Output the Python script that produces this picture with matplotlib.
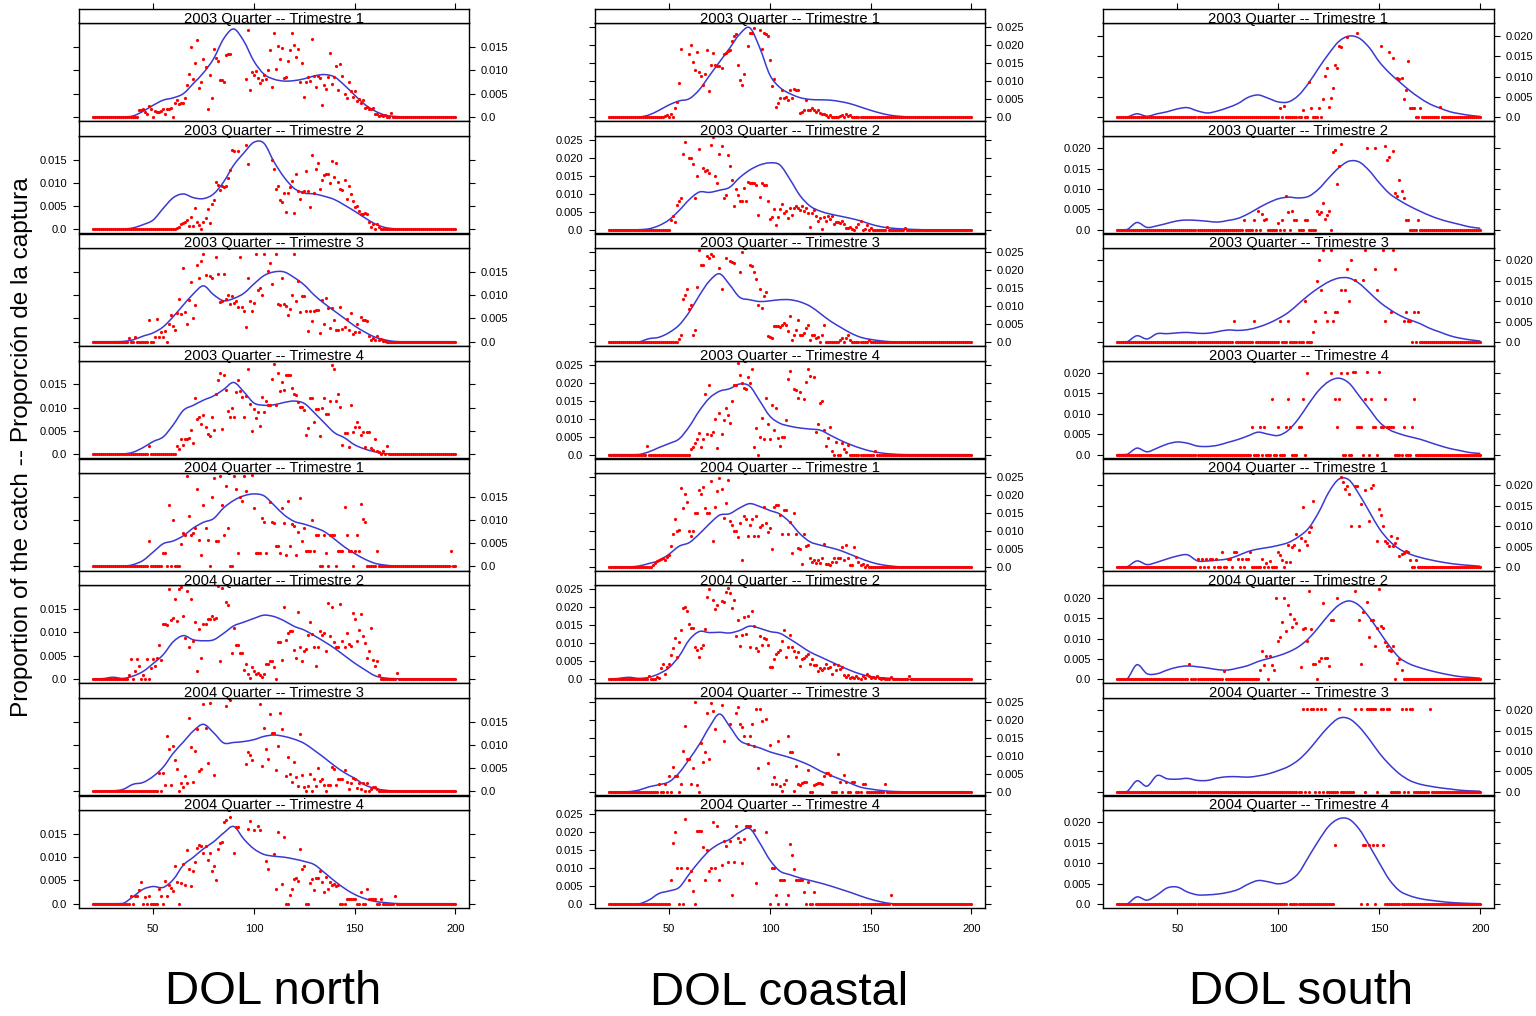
import numpy as np
import matplotlib
matplotlib.use("Agg")
import matplotlib.pyplot as plt
from matplotlib.path import Path
from matplotlib.patches import PathPatch

plt.rcParams['font.family'] = ['Liberation Sans', 'DejaVu Sans']

# ---------------- data (proportions in per-mille, i.e. value * 1000) ----------------
length_grid = list(range(20, 201))          # observed length classes (cm)
curve_grid = list(range(20, 201, 5))        # model curve evaluated every 5 cm
x_ticks = [50, 100, 150, 200]

quarter_labels = ["2003 Quarter -- Trimestre 1", "2003 Quarter -- Trimestre 2",
                  "2003 Quarter -- Trimestre 3", "2003 Quarter -- Trimestre 4",
                  "2004 Quarter -- Trimestre 1", "2004 Quarter -- Trimestre 2",
                  "2004 Quarter -- Trimestre 3", "2004 Quarter -- Trimestre 4"]
region_labels = ["DOL north", "DOL coastal", "DOL south"]
y_axis_label = "Proportion of the catch -- Proporción de la captura"

north_yticks = [0.0, 0.005, 0.010, 0.015]
north_yticklabels = ["0.0", "0.005", "0.010", "0.015"]
coastal_yticks = [0.0, 0.005, 0.010, 0.015, 0.020, 0.025]
coastal_yticklabels = ["0.0", "0.005", "0.010", "0.015", "0.020", "0.025"]
south_yticks = [0.0, 0.005, 0.010, 0.015, 0.020]
south_yticklabels = ["0.0", "0.005", "0.010", "0.015", "0.020"]

# ---- DOL north ----
n1_curve = [0,0,0,0,0.2,1.2,2.5,3.6,4.1,5.0,7.2,9.5,12.5,16.8,18.9,16.3,12.0,9.2,8.1,7.7,7.8,8.2,8.8,9.1,8.6,6.8,4.7,2.7,1.3,0.4,0.1,0,0,0,0,0,0]
n1_start = 43
n1_obs = [1.4,1.5,1.6,1.0,0.7,2.4,1.8,0,1.3,1.0,
          1.0,1.3,1.6,0.7,1.6,1.8,2.0,0,2.9,3.7,
          2.7,2.9,3.0,4.1,6.9,9.3,15.0,8.2,11.6,16.6,
          6.3,7.4,12.4,10.7,1.8,8.9,4.1,14.6,12.7,12.1,
          8.0,7.9,7.6,13.4,13.5,13.5,22,23,22,21.5,
          22,22,21,8.2,18.6,5.7,9.6,8.9,9.9,8.4,
          7.3,7.9,9.1,8.2,10.0,14.3,6.4,18.1,10.4,15.2,
          12.5,14.9,8.4,8.6,12.1,14.4,18.1,15.5,12.9,14.6,
          7.5,11.6,4.3,7.5,8.6,7.7,16.8,8.7,6.4,8.7,
          8.4,2.5,6.8,5.9,8.6,13.7,7.1,8.6,11.0,5.7,
          11.4,8.7,4.9,4.1,7.5,5.6,4.3,5.6,3.4,3.9,
          3.0,3.7,2.0,2.1,1.8,1.6,2.0,0.7,0.6,0.1,
          0.4,0.1,0.4,0,0,0.9]

n2_curve = [0,0,0,0.05,0.3,1.0,2.0,4.5,6.8,7.6,6.8,6.6,7.6,10.2,13.8,16.4,18.7,18.5,14.5,11.2,8.8,7.8,7.6,7.1,6.4,5.2,3.9,2.5,1.2,0.4,0.1,0,0,0,0,0,0]
n2_start = 62
n2_obs = [0.2,0.6,1.1,1.3,1.6,1.9,0.7,2.6,0.7,4.6,
          1.6,0.9,0,1.6,2.4,4.3,1.4,5.4,6.3,10.2,
          9.5,8.4,9.4,9.1,9.4,11.0,12.7,17.1,16.8,21,
          16.9,21,21,22,18.1,14.0,20.5,21,22,20.5,
          22,21,21,20.5,21,21,21,14.9,12.9,8.7,
          9.4,6.3,5.9,7.9,3.7,7.9,9.0,10.4,3.4,11.8,
          8.3,6.6,8.0,8.3,12.6,8.3,4.9,15.9,7.9,12.9,
          14.3,8.7,10.6,11.6,11.9,11.9,10.0,14.7,11.3,14.3,
          10.1,8.6,8.4,10.6,6.6,9.4,7.6,6.1,4.7,5.0,
          4.0,3.3,3.3,3.4,3.3,1.6,0.4,1.1,0.1,1.1,
          0.6,0.1,0]

n3_curve = [0,0,0,0.05,0.4,1.2,1.9,3.2,5.4,7.9,10.3,12.0,10.1,8.8,9.3,10.4,12.4,14.2,15.0,15.0,13.8,12.2,10.0,8.2,6.6,5.0,3.4,2.1,1.0,0.4,0.05,0,0,0,0,0,0]
n3_start = 38
n3_obs = [0.9,0,0,1.1,0,0,0,0,0,0,
          4.6,0,0,1.1,4.9,1.1,2.0,1.1,2.4,0,
          3.9,5.7,3.4,2.5,6.1,9.1,5.9,15.9,6.4,3.7,
          8.9,12.9,5.0,7.9,16.4,13.6,17.3,18.9,14.3,21,
          14.1,13.7,21,18.2,14.6,8.6,8.7,14.6,9.1,10.1,
          8.1,9.9,8.4,8.7,7.5,18.2,7.5,6.6,3.2,13.7,
          8.7,6.7,8.4,18.9,11.1,11.6,10.1,18.9,21,15.3,
          17.0,12.4,20.5,18.9,8.1,7.9,13.7,8.0,7.7,5.7,
          7.1,10.1,18.9,8.7,13.0,6.3,9.9,9.9,6.6,2.3,
          6.6,4.4,6.6,6.8,6.8,1.8,8.9,3.7,9.4,7.3,
          3.0,7.3,4.6,2.5,2.5,7.4,2.7,3.2,4.9,2.5,
          6.1,1.7,2.0,3.8,2.1,5.4,4.6,4.6,4.4,1.2,
          0.4,0.8,0.4,1.2,0.3,0.6,0.1,0.2]

n4_curve = [0,0,0,0.02,0.4,1.4,2.7,3.7,6.3,9.4,10.5,11.6,12.5,13.9,15.4,13.4,11.0,10.5,10.6,11.1,11.4,10.9,8.9,6.7,4.6,3.5,2.0,1.1,0.5,0.1,0,0,0,0,0,0,0]
n4_start = 48
n4_obs = [1.8,0,0,0,0,0,0,0,0,0,
          0,0,0,0,1.8,1.0,3.3,2.0,3.3,3.3,
          3.4,5.2,2.3,12.1,7.5,8.0,6.4,8.3,5.9,4.3,
          3.8,8.0,5.2,13.0,15.9,17.5,5.5,16.9,13.7,9.2,
          8.0,10.0,8.0,13.4,15.9,13.5,12.3,8.0,12.5,18.3,
          10.7,5.0,9.8,7.7,9.1,6.1,12.3,9.0,11.4,10.5,
          10.5,16.2,19.4,10.5,17.5,13.5,15.6,13.7,17.1,17.1,
          17.1,14.2,13.0,12.7,11.2,10.2,10.1,9.5,4.0,5.7,
          12.1,12.1,6.8,9.7,9.7,3.8,10.0,12.1,8.7,8.7,
          11.4,19.1,18.3,11.4,13.0,10.2,2.0,4.5,4.5,1.6,
          10.5,4.7,5.9,7.0,5.9,4.1,4.7,1.6,4.8,4.8,
          1.3,0.9,3.3,0.7,0.4,0,0.6,0,1.8]

n5_curve = [0,0,0,0.02,0.4,1.3,3.1,4.9,5.5,6.6,8.3,9.5,10.3,12.6,14.2,15.2,15.6,15.2,13.2,11.1,9.7,9.1,8.4,7.5,5.9,4.2,2.8,1.6,0.7,0.3,0.1,0,0,0,0,0,0]
n5_start = 48
n5_obs = [5.5,0,0,0,0,0,0,2.8,2.8,0,
          13.3,0,10.0,0,0,0,4.8,7.2,6.8,19.5,
          10.9,6.7,7.2,8.2,16.6,5.7,2.5,13.3,8.2,5.7,
          0,15.0,19.0,5.5,5.5,19.5,13.3,6.7,17.4,8.2,
          0,0,19.5,16.7,2.8,15.0,14.0,19.5,16.3,21,
          21,19.6,12.5,2.8,2.8,2.8,10.5,9.6,2.8,21,
          13.9,9.6,9.3,4.3,4.5,2.9,12.5,9.3,2.4,14.0,
          4.5,9.1,8.6,2.5,7.5,14.8,5.5,8.2,3.4,3.4,
          3.4,10.0,3.4,6.8,6.8,0,0,6.8,2.8,0,
          6.8,6.8,6.8,0,3.4,3.4,3.4,12.8,6.8,3.4,
          3.4,0,3.4,6.8,3.4,13.5,10.3,9.6,0,0,
          0,0,0,3.4]
n5_extra_x = [198]
n5_extra_y = [3.4]

n6_curve = [0,0.05,0.35,0.1,0.6,1.6,3.3,5.2,8.0,9.3,8.4,8.2,8.4,9.8,11.4,12.2,13.0,13.7,13.4,12.5,11.3,10.5,9.3,8.0,6.6,5.0,3.4,2.0,0.7,0.2,0.05,0,0,0,0,0,0]
n6_start = 38
n6_obs = [0.9,4.3,0,1.8,4.3,2.7,0,0.9,0,4.3,
          0,2.3,4.3,2.8,4.5,7.2,4.1,11.9,11.9,11.6,
          19.4,12.7,13.0,17.1,12.4,19.4,19.8,13.6,8.7,19.0,
          6.8,17.1,8.2,12.2,1.6,10.7,4.6,11.9,11.9,12.9,
          12.9,13.5,12.9,13.0,20,3.8,19.5,20.5,16.6,15.8,
          21,5.5,11.0,7.2,7.2,5.5,5.5,2.0,3.2,1.1,
          0.2,2.6,1.8,1.1,1.3,0.8,0.4,1.1,3.2,3.1,
          3.8,3.8,2.5,0,7.9,7.9,4.1,15.5,8.4,9.8,
          10.3,10.3,6.3,4.6,14.3,6.8,3.8,5.9,6.5,9.5,
          12.2,9.6,6.8,2.7,6.8,10.3,9.5,9.8,5.9,16.4,
          9.3,15.5,8.0,6.8,6.8,16.2,8.2,6.8,9.8,7.5,
          7.0,14.1,12.9,8.2,10.5,13.9,9.3,7.7,4.6,5.9,
          11.0,4.1,2.7,3.9,0.9,0,0,0,0,0,
          0,0,0,1.3]

n7_curve = [0,0.02,0.1,0.4,1.5,1.9,3.2,5.2,8.2,10.6,13.0,14.4,12.6,10.4,10.5,10.7,11.1,11.8,12.1,11.8,11.2,10.3,8.8,7.2,5.5,4.0,2.8,1.4,0.6,0.25,0.05,0,0,0,0,0,0]
n7_start = 53
n7_obs = [4.0,0,4.0,1.4,11.8,9.1,1.4,9.8,6.8,4.9,
          0,1.8,1.0,3.3,1.8,15.8,9.5,2.0,8.6,13.4,
          4.3,4.7,18.8,13.6,6.1,19.0,20.5,3.6,21,20.5,
          21,20.5,21,18.3,21,19.6,21,20.5,21,20.5,
          21,20.5,21,5.8,8.4,7.7,6.7,20.5,21,21,
          18.8,5.4,13.6,9.0,7.0,16.6,12.5,12.5,4.5,9.8,
          16.9,13.4,21,3.3,7.4,3.8,2.0,6.3,3.1,1.1,
          12.4,3.6,1.0,0,1.1,3.8,0,2.6,1.1,5.0,
          2.2,2.6,1.3,0,1.3,1.3,5.3,4.7,1.3,2.6,
          2.6,2.6,4.5,2.0,0.4,1.7,2.9,2.6,0.8,1.7,
          0.4,1.7,0,1.7,0,0.4,0.9,0.9,0.4]

n8_curve = [0,0,0,0.05,1.5,3.1,3.7,3.5,5.2,8.3,10.0,11.8,13.3,15.2,16.6,13.9,11.8,10.6,10.2,10.0,9.6,9.1,8.4,6.7,4.9,3.3,2.0,1.1,0.5,0.25,0.05,0,0,0,0,0,0]
n8_start = 39
n8_obs = [1.6,0,1.6,1.6,2.9,4.6,0,1.4,0,1.6,
          0,0,0,0,3.2,1.6,0,4.9,1.6,4.0,
          3.3,2.8,8.2,4.7,0,4.4,8.5,4.0,11.5,7.5,
          3.7,7.0,8.9,12.0,12.7,12.3,10.9,12.3,9.4,10.9,
          7.0,8.1,5.1,11.8,13.0,13.2,17.6,17.9,20.5,18.7,
          20.5,10.8,16.5,16.4,20.5,20.5,20.5,20.5,16.0,17.8,
          21,15.8,21,16.7,15.8,20.5,21,9.2,7.4,21,
          20.5,10.6,3.2,15.5,21,4.2,14.4,0,0,1.8,
          3.2,5.4,5.6,4.9,11.8,7.4,8.1,0,0,4.4,
          5.4,3.0,5.6,5.6,7.0,4.6,2.6,5.8,3.2,4.7,
          4.0,4.2,3.7,4.0,0,0,0,1.1,1.1,1.1,
          1.1,1.1,0,0,2.6,0,0,3.2,1.1,1.1,
          1.1,1.1,0,0,1.1,0,0,0,0,0,
          0,1.6]

# ---- DOL coastal ----
c1_curve = [0,0,0,0.1,0.7,2.0,3.5,4.6,5.2,7.7,11.6,15.4,19.2,23.1,24.9,19.3,11.8,8.3,6.6,5.5,5.0,4.9,4.8,4.4,3.8,2.9,2.0,1.2,0.6,0.3,0.1,0.05,0,0,0,0,0]
c1_start = 48
c1_obs = [0.4,0.7,0,1.1,0.2,2.5,4.4,9.5,19.0,27,
          27,27,17.6,20.0,15.5,13.2,18.3,12.5,11.6,9.0,
          12.1,18.7,7.4,14.6,17.9,14.6,14.3,14.2,13.7,17.7,
          17.9,18.4,18.8,21.2,22.6,23.1,14.6,10.4,9.0,12.1,
          27,19.8,23.5,23.5,24.9,27,27,24.4,19.0,23.5,
          23.1,22.6,15.9,8.8,10.6,2.8,3.9,5.3,7.6,5.3,
          5.8,4.9,7.5,5.3,7.8,7.5,7.5,1.3,1.6,2.1,
          4.9,2.2,2.2,2.5,2.1,1.6,2.1,1.3,0.9,0.9,
          0.6,0.2,0.6,0,0,0,0,0.4,0.6,0,
          0.9,0.4,0.6,0]

c2_curve = [0,0,0,0.05,0.3,1.2,2.8,5.4,8.4,10.5,10.4,11.0,11.8,14.5,16.6,18.0,18.6,18.0,14.0,9.5,6.6,5.2,4.4,3.8,3.2,2.5,1.6,0.9,0.5,0.3,0.15,0.05,0,0,0,0,0]
c2_start = 51
c2_obs = [2.8,3.9,2.3,6.9,8.1,8.8,21.1,24.3,26.5,19.9,
          19.9,18.2,8.8,15.0,22.4,26.5,17.1,16.4,16.7,15.9,
          23.6,25.7,15.0,13.0,21.0,23.3,8.8,9.7,20.8,17.6,
          13.9,6.5,11.3,9.7,7.9,7.9,11.6,7.9,13.4,13.0,
          13.1,13.0,12.5,4.2,9.1,13.0,12.5,12.5,7.9,3.0,
          3.7,5.7,1.4,3.7,5.7,7.2,4.6,5.1,3.2,6.0,
          4.2,6.0,6.5,6.0,5.4,6.7,5.1,6.0,4.6,0.9,
          4.8,5.4,3.9,2.6,3.2,0.2,3.7,2.6,3.9,3.0,
          3.9,1.7,2.3,2.3,2.0,2.6,1.7,0.5,0.5,0.9,
          0.2,0,0.9,1.7,2.6,0,0.2,1.4,0,0.5,
          0,0,0,0,0,0,0,0.9,0,0,
          0,0,0,0,0,0,0.5]

c3_curve = [0,0,0,0.1,1.0,1.4,2.7,4.8,8.4,13.0,17.0,19.0,16.0,12.5,11.8,11.3,11.5,11.8,11.8,11.2,10.0,8.0,5.9,4.2,2.6,1.4,0.8,0.4,0.15,0.05,0,0,0,0,0,0,0]
c3_start = 55
c3_obs = [0.9,2.1,12.1,13.2,14.7,9.1,10.4,2.1,3.3,15.4,
          25.7,21.5,21.5,27,24.0,23.5,24.4,23.8,27,27,
          20.5,14.7,27,23.5,27,22.6,22.4,21.9,27,27,
          19.6,25.0,27,27,27,21.5,21.3,19.4,17.5,10.4,
          14.7,9.5,12.9,14.0,1.7,1.4,1.1,4.5,4.5,4.5,
          4.2,4.7,5.4,4.7,3.0,7.3,0.7,2.1,3.3,6.3,
          1.9,1.9,2.6,3.9,4.9,0.5,1.9,2.1,1.1,1.4,
          0.2,2.1,4.7,0,0,0,0,0,0,0,
          0.5,1.1,0,1.1,2.1,0.7,0,0,0,0,
          0,0,0,0,0.7]

c4_curve = [0,0,0,0.05,0.8,2.0,3.1,4.4,7.8,12.2,15.7,17.6,18.3,19.6,19.0,14.9,10.7,8.7,7.9,7.4,7.1,6.8,5.4,4.0,2.8,1.8,1.0,0.5,0.2,0.05,0,0,0,0,0,0,0]
c4_start = 39
c4_obs = [2.3,0,0,0,0,0,0,0,0,0,
          0,0,0,0,0,0,0,0,0,0,
          0,0,1.7,2.1,3.3,4.3,6.1,2.1,4.4,16.9,
          5.6,19.4,5.4,6.3,9.8,1.9,11.7,5.6,9.5,13.0,
          11.0,8.9,14.8,19.4,19.3,25.5,22.0,20.0,18.5,18.3,
          21.5,20.0,23.7,2.1,7.4,0,4.9,10.2,4.3,15.7,
          8.6,4.3,13.7,6.8,13.0,4.6,2.4,4.9,4.9,9.5,
          21.1,23.1,26.5,18.1,18.0,15.6,17.4,26.5,15.4,20.2,
          23.9,21.9,26.5,21.6,6.3,8.5,14.4,14.8,6.8,2.4,
          4.6,7.7,0.9,0,3.5,0,0,3.3,1.7,0.7,
          2.8,0,0,0,0,0,0,0,0,0,
          0,0,0,0.9]

c5_curve = [0,0,0.05,0.3,1.0,1.8,3.6,5.8,6.8,9.2,12.0,14.4,14.8,16.4,17.6,16.8,15.7,14.7,12.4,9.2,7.0,6.1,5.4,4.6,3.5,2.4,1.4,0.7,0.3,0.05,0,0,0,0,0,0,0]
c5_start = 42
c5_obs = [0.5,1.2,1.6,1.9,2.3,2.5,2.1,2.8,3.3,5.9,
          9.3,13.3,10.0,10.2,22.0,16.3,20.4,18.0,9.9,8.6,
          9.9,15.1,15.1,21.5,20.2,22.3,16.4,14.9,14.9,23.8,
          7.2,16.7,21.1,24.8,21.7,13.5,17.9,24.2,12.7,11.8,
          9.9,9.9,8.4,12.1,1.9,14.2,13.3,8.6,11.8,13.3,
          8.6,14.2,8.6,11.0,11.8,16.7,12.1,9.8,10.9,4.9,
          16.7,17.2,17.2,14.4,9.3,15.8,15.8,9.3,12.5,4.0,
          15.1,9.3,5.3,4.9,0.9,9.3,5.9,6.2,2.5,1.4,
          2.1,1.2,2.1,1.2,2.5,6.5,0.9,0.9,0.7,1.4,
          2.5,1.4,2.5,2.5,5.7,1.9,6.0,2.5,0.7,0.5,
          5.6,2.8,1.4,0.7,0.9,0,0.5]

c6_curve = [0,0.3,0.6,0.3,0.6,1.6,3.3,6.5,11.0,13.3,13.0,13.1,12.9,13.6,14.8,14.2,13.3,12.8,11.2,9.4,7.6,6.3,5.0,3.7,2.5,1.5,0.8,0.5,0.3,0.1,0,0,0,0,0,0,0]
c6_start = 40
c6_obs = [1.0,0.2,0.2,0.2,0.7,0.3,3.2,4.2,1.4,3.5,
          4.4,6.9,8.6,11.4,6.3,10.3,13.8,19.7,20.0,19.0,
          15.3,14.4,14.4,9.1,8.1,6.3,8.8,9.5,14.0,23.0,
          25.1,27,22.0,19.5,20.6,27,21.8,21.6,24.2,25.5,
          23.9,19.7,22.0,12.1,16.5,9.4,12.3,17.4,12.5,17.7,
          9.1,19.0,14.9,8.8,7.9,12.1,9.5,11.6,11.2,9.7,
          3.5,3.5,5.6,7.2,7.5,8.1,10.6,13.7,6.3,9.1,
          12.3,9.1,7.9,6.3,7.5,3.8,5.8,6.0,6.6,7.2,
          4.2,5.8,4.0,4.0,2.3,3.1,2.6,3.1,4.2,3.1,
          3.5,1.4,4.2,2.6,4.0,2.9,3.5,1.2,0.7,1.2,
          0.3,0.7,0.3,1.0,0.3,0,1.0,0.3,1.4,1.0,
          0.3,0.7,0.3,1.0,0.3,0,0.3,0,0,0,
          0.7,0,0,0,0,0,0,0,0,1.0]

c7_curve = [0,0,0.05,0.5,1.4,2.0,2.8,5.3,9.1,13.2,18.0,21.6,18.2,14.3,13.0,12.2,11.1,10.3,9.5,8.5,7.3,5.8,4.6,3.5,2.4,1.3,0.8,0.4,0.15,0.05,0,0,0,0,0,0,0]
c7_start = 45
c7_obs = [2.2,0,0,2.2,0,4.4,0,6.9,4.4,4.4,
          0,2.2,11.4,18.2,9.1,9.1,2.2,6.6,25.0,1.9,
          0,13.5,8.4,11.2,22.0,9.1,24.7,22.5,17.5,27,
          27,24.1,14.0,27,27,18.7,27,27,22.0,23.5,
          18.9,18.0,15.4,27,13.3,15.4,18.7,12.8,23.1,6.6,
          23.1,19.7,27,20.3,8.1,13.1,2.2,4.1,2.2,14.2,
          1.6,0.2,2.2,3.2,15.6,11.2,11.0,0.2,7.2,2.2,
          1.9,2.5,2.8,2.8,6.0,0,0,1.9,2.2,2.5,
          2.5,2.2,4.4,5.1,5.1,4.7,0,0,0,10.5,
          2.8,0,4.7,2.8,0,0,2.8,2.8,0,0,
          0,2.2,2.2,0,0,0,0,0,0,0,
          0,0,2.2]

c8_curve = [0,0,0,0.1,1.2,3.0,3.7,4.7,8.4,11.9,14.9,16.8,18.0,20.0,21.0,17.0,12.3,9.2,8.2,7.3,6.6,5.9,5.1,4.2,3.3,2.3,1.4,0.7,0.2,0.05,0,0,0,0,0,0,0]
c8_start = 51
c8_obs = [6.7,16.9,20.1,10.1,0,10.1,0,23.6,10.1,6.7,
          9.2,3.6,0,20.4,20.4,20.4,16.0,6.7,15.0,9.2,
          10.1,22.7,10.1,21.7,6.7,10.8,17.6,16.1,11.7,17.6,
          2.6,11.7,21.7,18.3,17.3,11.4,18.0,21.7,21.7,21.7,
          27,20.5,5.8,27,27,27,27,20.1,27,0,
          10.1,10.1,2.6,0,6.7,6.7,6.6,0,2.6,16.7,
          13.6,9.8,6.6,6.7,6.7,6.6,3.3,0,6.1,0,
          0,3.3,0,0,0,0,0,0,0,0,
          0,0,0,0,0,0,0,0,0,0,
          0,0,0,0,0,0,0,0,0,0,
          0,0,0,0,0,0,0,0,0,2.6]

# ---- DOL south ----
s1_curve = [0,0.1,0.9,0.3,0.9,1.4,2.1,2.4,1.6,1.1,1.6,2.4,3.4,4.9,5.5,4.7,3.8,3.8,5.4,8.4,12.1,15.6,18.6,19.9,19.4,17.1,13.6,10.9,8.7,6.6,4.8,3.3,2.3,1.4,0.9,0.5,0.25]
s1_start = 101
s1_obs = [2.2,0,2.8,0,0,0,0,0,0,0,
          0,1.8,0,0,8.6,2.2,0,0,0,2.2,
          0,4.4,10.2,12.0,2.5,4.7,7.1,12.9,12.0,17.5,
          17.2,24,24,19.7,24,24,24,24,20.7,24,
          24,24,24,24,24,24,24,24,24,24,
          17.4,24,24,24,16.1,24,14.5,24,9.6,9.3,
          9.6,4.4,6.6,13.7,2.2,2.2,2.2,0,0,2.2,
          0,0,0,0,0,0,0,0,0,2.5]

s2_curve = [0,0.05,1.8,0.6,1.0,1.6,2.2,2.4,2.3,2.1,1.9,2.3,2.8,3.9,5.3,6.6,7.6,8.0,7.8,8.2,10.0,12.7,15.2,16.8,16.6,14.5,11.5,8.9,7.2,5.8,4.6,3.5,2.6,1.9,1.3,0.7,0.4]
s2_start = 83
s2_obs = [2.4,0,0,0,0,2.4,0,4.7,0,4.0,
          2.4,2.6,0,0,0,0,0,1.8,0,2.4,
          0,8.3,4.3,0,4.6,2.3,2.3,0,0,0,
          2.3,2.3,0,0,0,0,4.5,4.0,4.3,6.5,
          2.6,3.6,4.6,0,19.0,19.6,11.2,15.5,21.1,25,
          25,25,25,25,25,25,25,25,25,25,
          25,20.1,25,25,25,20.1,25,25,25,25,
          20.4,17.2,17.8,25,19.4,9.1,8.3,12.1,9.6,7.7,
          2.3,2.3,0,0,0,0,2.3]

s3_curve = [0,0.1,1.6,0.8,2.1,2.1,2.3,2.4,2.2,2.2,2.6,3.0,2.9,3.1,3.7,4.6,5.8,7.3,9.4,11.5,13.3,14.8,15.7,15.7,14.4,12.2,9.9,8.1,6.6,5.5,4.6,3.4,2.5,1.6,1.0,0.6,0.3]
s3_start = 78
s3_obs = [5.1,0,0,0,0,0,0,0,0,0,
          5.1,0,0,0,0,0,0,0,0,0,
          0,0,0,5.1,0,0,0,5.1,0,0,
          0,0,0,0,0,10.0,0,0,0,2.6,
          5.1,15.1,20.2,12.7,22.5,7.5,5.1,25,22.5,5.1,
          7.5,7.5,25,12.7,25,12.7,17.8,10.2,20.2,25,
          15.3,25,25,25,15.3,22.5,25,25,25,25,
          17.8,12.7,25,25,22.5,5.1,25,25,7.5,22.5,
          17.8,25,25,25,5.1,7.5,5.1,5.1,0,7.5,
          0,7.5]

s4_curve = [0,0.05,1.6,0.7,1.6,2.6,3.1,2.8,2.1,2.0,2.3,3.0,3.7,4.6,5.5,5.0,4.7,6.0,8.8,12.4,15.7,17.9,18.7,17.5,14.4,11.2,8.0,6.1,5.1,4.4,3.8,3.0,2.2,1.5,1.0,0.5,0.3]
s4_start = 87
s4_obs = [6.7,0,0,0,6.7,0,6.7,0,0,0,
          13.5,0,0,6.7,0,0,0,6.7,13.5,6.7,
          0,0,0,6.7,6.7,13.5,0,20.0,25,25,
          25,25,25,25,25,25,25,25,25,20.0,
          25,13.5,6.7,13.5,20.0,0,0,20.0,0,0,
          20.2,20.2,6.7,6.7,6.7,0,13.5,20.2,0,13.5,
          6.7,6.7,0,20.2,6.7,6.7,13.5,6.7,6.7,6.7,
          6.7,0,0,0,0,6.7,0,0,0,6.7,
          13.5]

s5_curve = [0,0.05,1.5,0.6,1.2,2.0,2.7,3.0,1.5,1.5,1.7,2.0,2.8,3.8,4.4,4.8,5.3,6.0,7.4,9.5,13.4,18.3,21.5,21.3,17.8,13.6,9.4,6.4,4.4,3.2,2.4,1.8,1.3,0.9,0.6,0.4,0.2]
s5_start = 60
s5_obs = [2.0,0,2.0,0,2.0,0,2.0,2.0,0,2.0,
          0,0,3.7,0,0,2.0,2.0,0,3.7,3.7,
          2.0,0,2.0,0,2.0,2.0,3.7,0,0,0,
          0,0,2.0,0,1.1,0,1.5,0,0,0,
          3.6,2.9,1.8,0,1.3,5.4,1.3,4.8,5.4,8.0,
          4.2,7.2,14.6,6.4,5.4,8.6,9.7,16.2,25,25,
          25,25,25,25,25,25,25,25,25,25,
          25,21.9,20.7,19.0,19.8,17.8,10.1,25,19.8,19.8,
          10.1,15.4,25,18.9,25,11.3,19.4,20.0,25,6.4,
          14.1,12.7,10.1,6.4,5.9,5.2,7.5,5.2,5.9,7.0,
          2.6,3.2,3.4,4.0,3.7,1.8,0,0,1.8]

s6_curve = [0,0.05,3.6,1.4,1.4,2.3,3.0,3.3,3.1,2.8,2.4,2.3,2.8,3.4,4.4,5.1,5.8,6.7,8.0,10.0,12.8,15.8,18.2,19.2,18.1,15.2,11.7,8.2,5.3,3.8,2.9,2.2,1.6,1.1,0.7,0.5,0.3]
s6_start = 56
s6_obs = [3.8,0,0,0,0,0,0,0,0,0,
          0,0,0,0,0,0,0,2.0,0,0,
          0,0,0,0,0,0,0,0,0,0,
          0,0,0,0,0,2.4,7.0,3.6,5.8,0.2,
          5.8,3.6,2.4,19.8,9.5,10.5,14.1,20.0,11.9,18.1,
          16.0,12.8,14.7,13.8,25,3.0,12.3,12.5,9.5,21.6,
          12.3,3.8,3.8,0.2,4.4,5.2,18.6,5.2,5.2,3.4,
          14.6,14.6,25,19.8,25,25,25,25,25,25,
          25,25,21.6,25,14.6,3.8,16.5,25,18.9,10.3,
          14.6,14.6,8.3,12.7,22.0,13.0,12.7,9.2,8.1,7.3,
          7.0,8.1,0.2,4.0,5.0,2.4]

s7_curve = [0,0.05,2.7,1.4,4.0,3.2,3.1,3.3,2.8,2.8,3.4,3.7,3.7,3.6,3.9,4.4,5.2,6.2,7.8,10.2,13.2,16.0,18.0,17.9,15.9,12.9,9.5,6.7,4.4,2.8,1.9,1.4,1.0,0.7,0.4,0.25,0.15]
s7_start = 112
s7_obs = [20.2,0,20.2,0,20.2,20.2,0,20.2,0,20.2,
          0,20.2,0,0,0,0,0,0,20.2,0,
          0,0,0,0,0,0,20.2,25,25,20.2,
          25,0,20.2,20.2,20.2,20.2,20.2,0,25,20.2,
          20.2,25,20.2,20.2,0,0,0,0,0,20.2,
          0,20.2,0,20.2,20.2,0,0,0,0,0,
          0,0,0,20.2]

s8_curve = [0,0.05,1.8,1.0,2.3,4.0,4.2,3.0,2.3,2.3,2.5,2.9,3.6,4.9,5.8,5.5,5.0,5.6,7.6,11.6,15.6,19.1,20.9,20.8,18.4,14.4,10.1,6.0,3.3,2.1,1.4,1.0,0.7,0.45,0.3,0.2,0.15]
s8_start = 105
s8_obs = [25,0,0,0,0,0,0,0,0,0,
          0,0,0,0,0,0,0,0,0,0,
          0,0,0,14.5,25,25,25,25,25,25,
          25,25,25,25,25,25,0,14.5,14.5,0,
          14.5,25,14.5,0,14.5,25,25,14.5]

# ---------------- assemble ----------------
columns = [
    dict(curves=[n1_curve, n2_curve, n3_curve, n4_curve, n5_curve, n6_curve, n7_curve, n8_curve],
         starts=[n1_start, n2_start, n3_start, n4_start, n5_start, n6_start, n7_start, n8_start],
         obs=[n1_obs, n2_obs, n3_obs, n4_obs, n5_obs, n6_obs, n7_obs, n8_obs],
         extras={4: (n5_extra_x, n5_extra_y)},
         yticks=north_yticks, ylabels=north_yticklabels,
         ylim=(-0.00086, 0.0201), left=79, width=390),
    dict(curves=[c1_curve, c2_curve, c3_curve, c4_curve, c5_curve, c6_curve, c7_curve, c8_curve],
         starts=[c1_start, c2_start, c3_start, c4_start, c5_start, c6_start, c7_start, c8_start],
         obs=[c1_obs, c2_obs, c3_obs, c4_obs, c5_obs, c6_obs, c7_obs, c8_obs],
         extras={},
         yticks=coastal_yticks, ylabels=coastal_yticklabels,
         ylim=(-0.00095, 0.0261), left=595, width=390),
    dict(curves=[s1_curve, s2_curve, s3_curve, s4_curve, s5_curve, s6_curve, s7_curve, s8_curve],
         starts=[s1_start, s2_start, s3_start, s4_start, s5_start, s6_start, s7_start, s8_start],
         obs=[s1_obs, s2_obs, s3_obs, s4_obs, s5_obs, s6_obs, s7_obs, s8_obs],
         extras={},
         yticks=south_yticks, ylabels=south_yticklabels,
         ylim=(-0.00084, 0.0230), left=1103, width=391),
]

W, H = 1536, 1016
fig = plt.figure(figsize=(W / 100, H / 100), dpi=100)

PANEL_TOP0 = 23.4
PITCH = 112.4
PANEL_H = 97.5
STRIP_H = 14.5
XLIM = (13.2, 206.8)
LINE_BLUE = '#3a3ad2'
TICK_LEN = 4.3


def rect(left, top, width, height):
    return [left / W, 1 - (top + height) / H, width / W, height / H]


def smooth_curve_path(xs, ys):
    """Smooth (Bezier) rendering of the curve passing through every data point."""
    xs = np.asarray(xs, float)
    ys = np.asarray(ys, float)
    n = len(xs)
    verts = [(xs[0], ys[0])]
    codes = [Path.MOVETO]
    for i in range(n - 1):
        p0 = i - 1 if i > 0 else i
        p3 = i + 2 if i + 2 < n else i + 1
        c1 = (xs[i] + (xs[i + 1] - xs[p0]) / 6.0, max(ys[i] + (ys[i + 1] - ys[p0]) / 6.0, 0.0))
        c2 = (xs[i + 1] - (xs[p3] - xs[i]) / 6.0, max(ys[i + 1] - (ys[p3] - ys[i]) / 6.0, 0.0))
        verts += [c1, c2, (xs[i + 1], ys[i + 1])]
        codes += [Path.CURVE4] * 3
    return Path(verts, codes)


for ci, col in enumerate(columns):
    gx = np.array(length_grid)
    for r in range(8):
        top = PANEL_TOP0 + r * PITCH
        ax = fig.add_axes(rect(col['left'], top, col['width'], PANEL_H))
        # observed proportions
        y = np.zeros(len(length_grid))
        st = col['starts'][r]
        vals = col['obs'][r]
        y[st - 20: st - 20 + len(vals)] = vals
        if r in col['extras']:
            ex, ey = col['extras'][r]
            for xx, yy in zip(ex, ey):
                y[xx - 20] = yy
        path = smooth_curve_path(curve_grid, np.array(col['curves'][r]) / 1000.0)
        ax.add_patch(PathPatch(path, fill=False, edgecolor=LINE_BLUE, lw=1.1, zorder=2))
        ax.plot(gx, y / 1000.0, linestyle='none', marker='o', ms=2.3,
                mfc='red', mec='none', zorder=3)
        ax.set_xlim(*XLIM)
        ax.set_ylim(*col['ylim'])
        ax.set_yticks(col['yticks'])
        ax.set_yticklabels(col['ylabels'])
        ax.tick_params(axis='y', direction='out', length=TICK_LEN, width=0.8,
                       left=True, right=True,
                       labelleft=(r % 2 == 1), labelright=(r % 2 == 0),
                       labelsize=8, pad=4.3, colors='black')
        ax.set_xticks(x_ticks)
        if r == 7:
            ax.tick_params(axis='x', direction='out', length=TICK_LEN, width=0.8,
                           bottom=True, top=False, labelbottom=True,
                           labelsize=8, pad=7.5)
        else:
            ax.tick_params(axis='x', bottom=False, top=False, labelbottom=False)
        for sp in ax.spines.values():
            sp.set_linewidth(1.0)
            sp.set_color('black')

        # strip
        sa = fig.add_axes(rect(col['left'], top - STRIP_H, col['width'], STRIP_H))
        sa.set_xlim(*XLIM)
        sa.set_yticks([])
        if r == 0:
            sa.set_xticks(x_ticks)
            sa.tick_params(axis='x', direction='out', length=TICK_LEN, width=0.8,
                           top=True, bottom=False, labeltop=False, labelbottom=False)
        else:
            sa.set_xticks([])
        for sp in sa.spines.values():
            sp.set_linewidth(1.0)
            sp.set_color('black')
        sa.text(0.5, 0.06, quarter_labels[r], transform=sa.transAxes,
                ha='center', va='baseline', fontsize=10.6, color='black')

# overall y label
fig.text(22 / W, 1 - 447 / H, y_axis_label, rotation=90, ha='center', va='center',
         fontsize=17.6, color='black')

# region titles
title_pos = [(273.5, 1004), (779, 1005), (1301.5, 1004)]
for (tx, ty), lab in zip(title_pos, region_labels):
    fig.text(tx / W, 1 - ty / H, lab, ha='center', va='baseline', fontsize=34,
             color='black')

fig.savefig('out.png', dpi=100)
